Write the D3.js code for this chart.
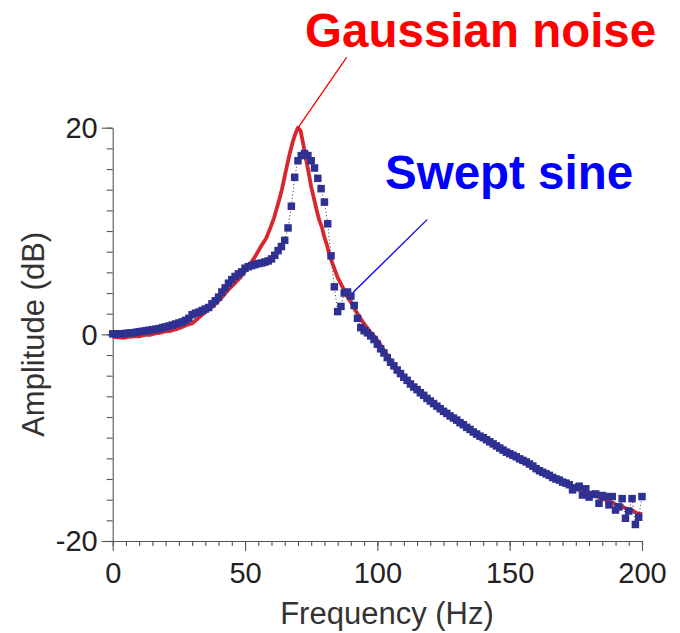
<!DOCTYPE html>
<html>
<head>
<meta charset="utf-8">
<script src="https://cdn.jsdelivr.net/npm/d3@7"></script>
<style>
  body { margin: 0; background: #fff; }
  svg { display: block; font-family: "Liberation Sans", Arial, sans-serif; }
</style>
</head>
<body>
<div id="chart"></div>
<script>
const width = 680,
  height = 633;

// Gaussian noise measurement (red line): frequency (Hz) and amplitude (dB)
const noiseFreq = [0, 2, 4, 6, 8, 10, 12, 14, 16, 18, 20, 22, 24, 26, 28, 30, 32, 34, 36, 38,
  40, 42, 44, 46, 48, 50, 52, 54, 56, 58, 60, 61, 62, 63, 64, 65, 66, 67, 68, 69,
  70, 71, 72, 73, 74, 75, 76, 77, 78, 79, 80, 81, 82, 83, 84, 85, 86, 87, 88, 89,
  90, 91, 92, 93, 94, 95, 96, 97, 98, 99, 100, 102, 104, 106, 108, 110, 112, 114, 116, 118,
  120, 122, 124, 126, 128, 130, 132, 134, 136, 138, 140, 142, 144, 146, 148, 150, 152, 154, 156, 158,
  160, 162, 164, 166, 168, 170, 172, 174, 176, 178, 180, 182, 184, 186, 188, 190, 192, 194, 196, 198, 200];
const noiseDb = [-0.25, -0.3, -0.35, -0.25, -0.2, -0.2, -0.05, -0.05, 0.1, 0.15, 0.3, 0.35, 0.5, 0.7, 0.9, 1.05, 1.5, 1.95, 2.35, 2.75,
  3.25, 3.8, 4.4, 4.9, 5.45, 6.1, 6.8, 7.6, 8.5, 9.3, 10.6, 11.3, 12.2, 13.1, 14.1, 15.3, 16.5, 17.6, 18.6, 19.4,
  20.0, 19.7, 18.4, 17.0, 15.7, 14.3, 13.2, 12.1, 11.1, 10.4, 9.4, 8.6, 7.6, 6.9, 6.2, 5.5, 5.0, 4.5, 3.9, 3.5,
  3.1, 2.6, 2.2, 1.8, 1.4, 1.0, 0.7, 0.3, 0.05, -0.25, -0.55, -1.35, -2.15, -2.9, -3.55, -4.15, -4.7, -5.15, -5.6, -6.05,
  -6.45, -6.85, -7.25, -7.6, -8.0, -8.3, -8.65, -9.0, -9.35, -9.7, -10.0, -10.3, -10.6, -10.95, -11.25, -11.5, -11.8, -12.05, -12.3, -12.65,
  -13.0, -13.3, -13.55, -13.8, -14.05, -14.3, -14.5, -14.75, -15.0, -15.2, -15.4, -15.6, -15.8, -16.0, -16.2, -16.45, -16.6, -16.85, -17.0, -17.3, -17.4];

// Swept sine measurement (blue squares), one point every 1.25 Hz from 0 to 200 Hz
const sweptStep = 1.25;
const sweptDb = [0.05, 0.05, 0.05, 0.05, 0.1, 0.12, 0.15, 0.2, 0.25, 0.3,
  0.35, 0.4, 0.45, 0.5, 0.55, 0.65, 0.72, 0.8, 0.9, 1.0,
  1.1, 1.2, 1.35, 1.55, 1.9, 2.05, 2.15, 2.3, 2.45, 2.6,
  2.95, 3.25, 3.6, 4.1, 4.5, 4.95, 5.3, 5.6, 5.85, 6.05,
  6.4, 6.55, 6.65, 6.75, 6.85, 6.9, 7.0, 7.1, 7.3, 7.65,
  8.1, 8.5, 9.1, 10.3, 12.4, 15.2, 16.8, 17.3, 17.5, 17.3,
  16.8, 16.1, 15.1, 14.1, 12.8, 10.7, 7.6, 4.6, 2.2, 2.7,
  4.0, 4.1, 3.7, 2.8, 1.55, 0.65, 0.35, 0.15, -0.15, -0.5,
  -0.95, -1.4, -1.8, -2.25, -2.7, -3.05, -3.45, -3.8, -4.15, -4.45,
  -4.8, -5.1, -5.35, -5.65, -5.9, -6.2, -6.45, -6.7, -6.95, -7.2,
  -7.45, -7.65, -7.9, -8.1, -8.3, -8.55, -8.75, -9.0, -9.2, -9.45,
  -9.65, -9.85, -10.0, -10.2, -10.4, -10.6, -10.8, -11.0, -11.2, -11.4,
  -11.55, -11.7, -11.85, -12.05, -12.2, -12.35, -12.55, -12.75, -13.0, -13.2,
  -13.35, -13.5, -13.65, -13.85, -14.0, -14.1, -14.3, -14.4, -14.55, -15.05,
  -14.85, -14.7, -15.55, -14.95, -15.75, -15.5, -15.45, -16.35, -15.6, -15.7,
  -16.5, -15.7, -17.0, -16.7, -15.9, -17.8, -17.1, -15.9, -18.4, -17.7,
  -15.7];

// axis ticks
const xMajorTicks = [0, 50, 100, 150, 200];
const yMajorTicks = [-20, 0, 20];

// callout labels: text anchor and leader line ends, in data units
const callouts = [
  { label: "Gaussian noise", color: "#ff0000", tx: 72.7, ty: 27.8, x1: 88.4, y1: 26.8, x2: 69.8, y2: 19.9 },
  { label: "Swept sine", color: "#0000ff", tx: 102.9, ty: 14.1, x1: 118.8, y1: 11.1, x2: 90.8, y2: 4.05 }
];

const noise = noiseFreq.map(function(f, i) { return { f: f, db: noiseDb[i] }; });
const swept = sweptDb.map(function(v, i) { return { f: i * sweptStep, db: v }; });

const x = d3.scaleLinear().domain([0, 200]).range([112.7, 642]);
const y = d3.scaleLinear().domain([-20, 20]).range([541, 127.7]);

const svg = d3.select("#chart").append("svg")
  .attr("width", width)
  .attr("height", height);

// minor ticks
svg.append("g")
  .attr("class", "minor")
  .attr("transform", "translate(0," + y(-20) + ")")
  .call(d3.axisBottom(x).tickValues(d3.range(0, 201, 5)).tickSize(5).tickFormat(""));
svg.append("g")
  .attr("class", "minor")
  .attr("transform", "translate(" + x(0) + ",0)")
  .call(d3.axisLeft(y).tickValues(d3.range(-20, 21, 2)).tickSize(6).tickFormat(""));

// major ticks with labels (plain hyphen for negatives, as in the original)
const plain = function(d) { return String(d); };
const xAxis = svg.append("g")
  .attr("transform", "translate(0," + y(-20) + ")")
  .call(d3.axisBottom(x).tickValues(xMajorTicks).tickFormat(plain).tickSize(10).tickSizeOuter(0).tickPadding(11));
const yAxis = svg.append("g")
  .attr("transform", "translate(" + x(0) + ",0)")
  .call(d3.axisLeft(y).tickValues(yMajorTicks).tickFormat(plain).tickSize(11).tickSizeOuter(0).tickPadding(4));

svg.selectAll(".domain, .tick line").attr("stroke", "#555").attr("stroke-width", 1.1);
svg.selectAll(".minor .domain").remove();
svg.selectAll(".tick text")
  .attr("fill", "#222")
  .style("font-family", "'Liberation Sans', Arial, sans-serif")
  .style("font-size", "29px");
yAxis.selectAll(".tick text").attr("dy", "0.34em");

// axis titles
svg.append("text")
  .attr("x", 387)
  .attr("y", 624)
  .attr("text-anchor", "middle")
  .attr("fill", "#333")
  .style("font-size", "31px")
  .text("Frequency (Hz)");

svg.append("text")
  .attr("transform", "translate(44," + y(0) + ")rotate(-90)")
  .attr("text-anchor", "middle")
  .attr("fill", "#333")
  .style("font-size", "31px")
  .text("Amplitude (dB)");

// gaussian noise curve
const line = d3.line()
  .x(function(d) { return x(d.f); })
  .y(function(d) { return y(d.db); });

svg.append("path")
  .datum(noise)
  .attr("d", line)
  .attr("fill", "none")
  .attr("stroke", "#d7282f")
  .attr("stroke-width", 3.8)
  .attr("stroke-linejoin", "round");

// swept sine: dotted connector then squares
svg.append("path")
  .datum(swept)
  .attr("d", line)
  .attr("fill", "none")
  .attr("stroke", "#333")
  .attr("stroke-width", 1)
  .attr("stroke-dasharray", "1,2.5");

const sq = 7.5;
svg.append("g").selectAll("rect")
  .data(swept)
  .enter().append("rect")
  .attr("x", function(d) { return x(d.f) - sq / 2; })
  .attr("y", function(d) { return y(d.db) - sq / 2; })
  .attr("width", sq)
  .attr("height", sq)
  .attr("fill", "#2e3192");

// callouts
const co = svg.append("g").selectAll("g")
  .data(callouts)
  .enter().append("g");

co.append("line")
  .attr("x1", function(d) { return x(d.x1); })
  .attr("y1", function(d) { return y(d.y1); })
  .attr("x2", function(d) { return x(d.x2); })
  .attr("y2", function(d) { return y(d.y2); })
  .attr("stroke", function(d) { return d.color; })
  .attr("stroke-width", 1.3);

co.append("text")
  .attr("x", function(d) { return x(d.tx); })
  .attr("y", function(d) { return y(d.ty); })
  .attr("fill", function(d) { return d.color; })
  .style("font-size", "47.5px")
  .style("font-weight", "bold")
  .text(function(d) { return d.label; });
</script>
</body>
</html>
